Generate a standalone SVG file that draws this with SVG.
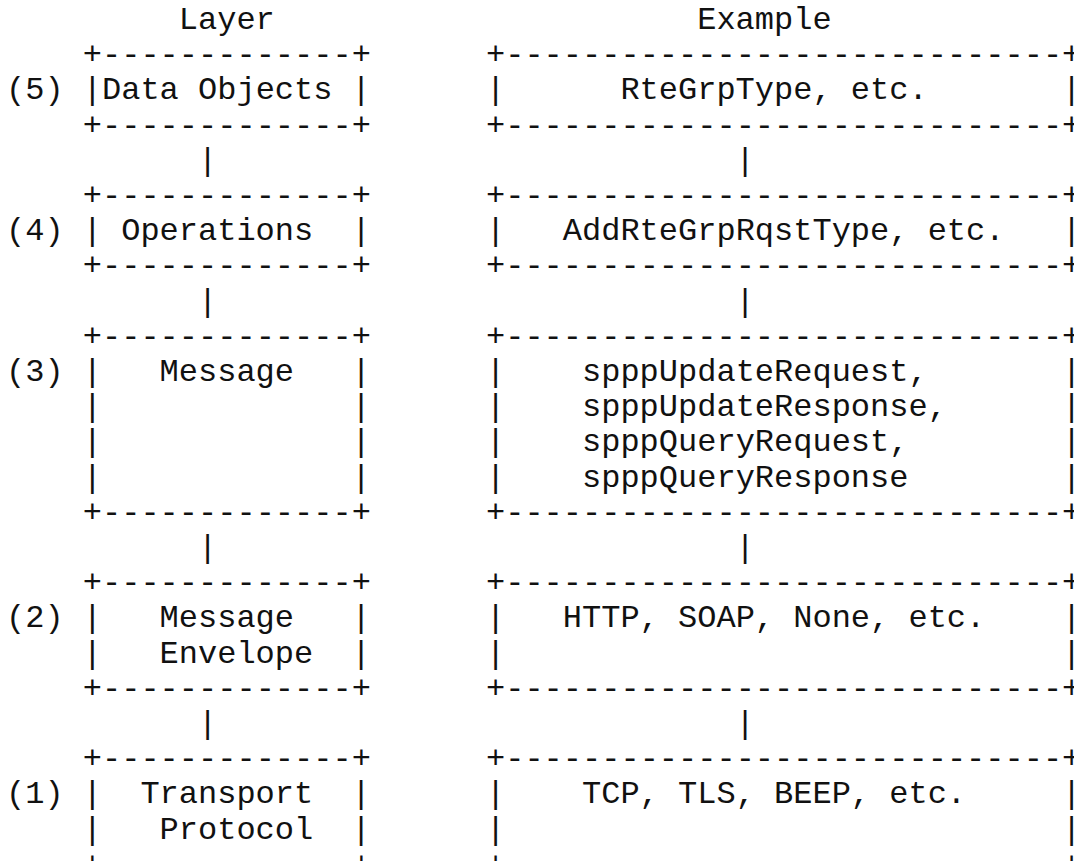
<svg xmlns="http://www.w3.org/2000/svg" width="1074" height="861" viewBox="0 0 1074 861">
<style>
text { font-family: "Courier New", "Liberation Mono", monospace; font-size: 32px; fill: #111; }
</style>
<rect width="1074" height="861" fill="#fff"/>
<g id="headers">
<text x="178.8" y="29">Layer</text>
<text x="697.2" y="29">Example</text>
</g>
<g id="layer5">
<text x="6" y="99.4">(5)</text>
<text x="82.8" y="64.2">+-------------+</text>
<text x="82.8" y="99.4">|</text><text x="351.6" y="99.4">|</text>
<text x="102" y="99.4">Data Objects</text>
<text x="82.8" y="134.6">+-------------+</text>
</g>
<g id="example5">
<text x="486" y="64.2">+-----------------------------+</text>
<text x="486" y="99.4">|</text><text x="1062" y="99.4">|</text>
<text x="620.4" y="99.4">RteGrpType, etc.</text>
<text x="486" y="134.6">+-----------------------------+</text>
</g>
<g id="layer4">
<text x="6" y="240.2">(4)</text>
<text x="82.8" y="205">+-------------+</text>
<text x="82.8" y="240.2">|</text><text x="351.6" y="240.2">|</text>
<text x="121.2" y="240.2">Operations</text>
<text x="82.8" y="275.4">+-------------+</text>
</g>
<g id="example4">
<text x="486" y="205">+-----------------------------+</text>
<text x="486" y="240.2">|</text><text x="1062" y="240.2">|</text>
<text x="562.8" y="240.2">AddRteGrpRqstType, etc.</text>
<text x="486" y="275.4">+-----------------------------+</text>
</g>
<g id="layer3">
<text x="6" y="381">(3)</text>
<text x="82.8" y="345.8">+-------------+</text>
<text x="82.8" y="381">|</text><text x="351.6" y="381">|</text>
<text x="82.8" y="416.2">|</text><text x="351.6" y="416.2">|</text>
<text x="82.8" y="451.4">|</text><text x="351.6" y="451.4">|</text>
<text x="82.8" y="486.6">|</text><text x="351.6" y="486.6">|</text>
<text x="159.6" y="381">Message</text>
<text x="82.8" y="521.8">+-------------+</text>
</g>
<g id="example3">
<text x="486" y="345.8">+-----------------------------+</text>
<text x="486" y="381">|</text><text x="1062" y="381">|</text>
<text x="486" y="416.2">|</text><text x="1062" y="416.2">|</text>
<text x="486" y="451.4">|</text><text x="1062" y="451.4">|</text>
<text x="486" y="486.6">|</text><text x="1062" y="486.6">|</text>
<text x="582" y="381">spppUpdateRequest,</text>
<text x="582" y="416.2">spppUpdateResponse,</text>
<text x="582" y="451.4">spppQueryRequest,</text>
<text x="582" y="486.6">spppQueryResponse</text>
<text x="486" y="521.8">+-----------------------------+</text>
</g>
<g id="layer2">
<text x="6" y="627.4">(2)</text>
<text x="82.8" y="592.2">+-------------+</text>
<text x="82.8" y="627.4">|</text><text x="351.6" y="627.4">|</text>
<text x="82.8" y="662.6">|</text><text x="351.6" y="662.6">|</text>
<text x="159.6" y="627.4">Message</text>
<text x="159.6" y="662.6">Envelope</text>
<text x="82.8" y="697.8">+-------------+</text>
</g>
<g id="example2">
<text x="486" y="592.2">+-----------------------------+</text>
<text x="486" y="627.4">|</text><text x="1062" y="627.4">|</text>
<text x="486" y="662.6">|</text><text x="1062" y="662.6">|</text>
<text x="562.8" y="627.4">HTTP, SOAP, None, etc.</text>
<text x="486" y="697.8">+-----------------------------+</text>
</g>
<g id="layer1">
<text x="6" y="803.4">(1)</text>
<text x="82.8" y="768.2">+-------------+</text>
<text x="82.8" y="803.4">|</text><text x="351.6" y="803.4">|</text>
<text x="82.8" y="838.6">|</text><text x="351.6" y="838.6">|</text>
<text x="140.4" y="803.4">Transport</text>
<text x="159.6" y="838.6">Protocol</text>
<text x="82.8" y="873.8">+-------------+</text>
</g>
<g id="example1">
<text x="486" y="768.2">+-----------------------------+</text>
<text x="486" y="803.4">|</text><text x="1062" y="803.4">|</text>
<text x="486" y="838.6">|</text><text x="1062" y="838.6">|</text>
<text x="582" y="803.4">TCP, TLS, BEEP, etc.</text>
<text x="486" y="873.8">+-----------------------------+</text>
</g>
<g id="connectors">
<text x="198" y="169.8">|</text><text x="735.6" y="169.8">|</text>
<text x="198" y="310.6">|</text><text x="735.6" y="310.6">|</text>
<text x="198" y="557">|</text><text x="735.6" y="557">|</text>
<text x="198" y="733">|</text><text x="735.6" y="733">|</text>
</g>
</svg>
